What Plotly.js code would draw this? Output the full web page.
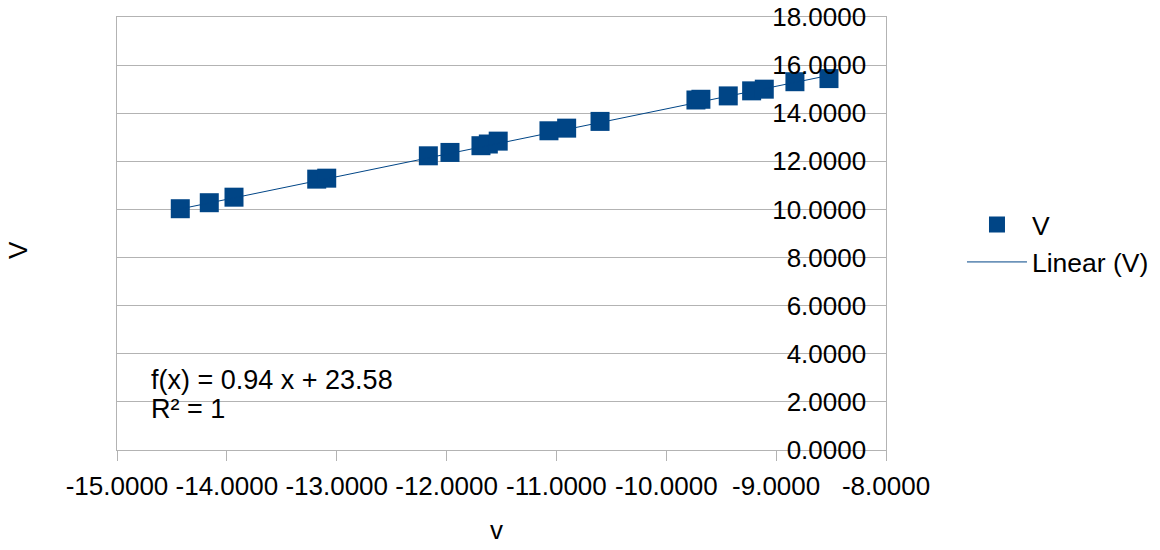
<!DOCTYPE html>
<html>
<head>
<meta charset="utf-8">
<script src="https://cdn.plot.ly/plotly-3.0.1.min.js"></script>
<style>
  html, body { margin: 0; padding: 0; background: #ffffff; }
  #chart { width: 1160px; height: 550px; }
</style>
</head>
<body>
<div id="chart"></div>
<script>
// Data
const xValues = [-14.424, -14.160, -13.935, -13.182, -13.091, -12.166, -11.969, -11.687, -11.620, -11.530,
                 -11.068, -10.907, -10.603, -9.730, -9.685, -9.436, -9.223, -9.108, -8.829, -8.519];
const yValues = [10.03, 10.28, 10.51, 11.26, 11.30, 12.23, 12.37, 12.65, 12.72, 12.84,
                 13.27, 13.38, 13.66, 14.55, 14.58, 14.72, 14.93, 15.00, 15.31, 15.44];

// Trend line coefficients as printed on the chart
const trendSlope = 0.94;
const trendIntercept = 23.58;
const trendR2 = 1;

const seriesName = "V";
const trendName = "Linear (V)";
const xTitle = "v";
const yTitle = "V";

const xTickVals = [-15, -14, -13, -12, -11, -10, -9, -8];
const xTickText = ["-15.0000", "-14.0000", "-13.0000", "-12.0000", "-11.0000", "-10.0000", "-9.0000", "-8.0000"];
const yTickVals = [0, 2, 4, 6, 8, 10, 12, 14, 16, 18];

const color = "#004586";
const gridColor = "#b3b3b3";
const fontFamily = "Liberation Sans, Arial, sans-serif";

const xMin = Math.min(...xValues);
const xMax = Math.max(...xValues);
const trendX = [xMin, xMax];
const trendY = trendX.map(x => trendSlope * x + trendIntercept);

const traces = [
  {
    type: "scatter",
    mode: "markers",
    name: seriesName,
    x: xValues,
    y: yValues,
    marker: { symbol: "square", size: 19, color: color }
  },
  {
    type: "scatter",
    mode: "lines",
    name: trendName,
    x: trendX,
    y: trendY,
    line: { color: color, width: 1 }
  }
];

const eqText = "f(x) = " + trendSlope.toFixed(2) + " x + " + trendIntercept.toFixed(2);
const r2Text = "R² = " + trendR2;

const layout = {
  width: 1160,
  height: 550,
  margin: { l: 117, r: 274, t: 17, b: 100, pad: 0, autoexpand: false },
  paper_bgcolor: "#ffffff",
  plot_bgcolor: "#ffffff",
  font: { family: fontFamily, size: 26, color: "#000000" },
  showlegend: true,
  legend: {
    xref: "container", yref: "container",
    x: 0.8293, y: 0.635, xanchor: "left", yanchor: "top",
    font: { family: fontFamily, size: 26.5, color: "#000000" },
    bgcolor: "rgba(0,0,0,0)", borderwidth: 0,
    itemwidth: 60, tracegroupgap: 0
  },
  xaxis: {
    range: [-15, -8],
    tickvals: xTickVals,
    ticktext: xTickText,
    showgrid: false,
    zeroline: false,
    showline: true,
    linecolor: gridColor,
    linewidth: 1,
    mirror: true,
    ticks: "outside",
    ticklen: 10,
    tickcolor: gridColor,
    ticklabelstandoff: 3,
    tickfont: { family: fontFamily, size: 26, color: "#000000" }
  },
  yaxis: {
    range: [0, 18],
    tickvals: yTickVals,
    tickformat: ".4f",
    side: "right",
    ticklabelposition: "inside",
    ticklabeloverflow: "allow",
    ticklabelstandoff: 12,
    showgrid: true,
    gridcolor: gridColor,
    gridwidth: 1,
    zeroline: false,
    showline: true,
    linecolor: gridColor,
    linewidth: 1,
    mirror: true,
    ticks: "inside",
    ticklen: 10,
    tickcolor: gridColor,
    tickfont: { family: fontFamily, size: 26, color: "#000000" }
  },
  annotations: [
    { xref: "paper", yref: "paper", x: 0.042, y: 0.162, xanchor: "left", yanchor: "middle",
      text: eqText, showarrow: false, font: { family: fontFamily, size: 27, color: "#000000" } },
    { xref: "paper", yref: "paper", x: 0.042, y: 0.095, xanchor: "left", yanchor: "middle",
      text: r2Text, showarrow: false, font: { family: fontFamily, size: 27, color: "#000000" } },
    { xref: "paper", yref: "paper", x: 0.494, y: -0.185, xanchor: "center", yanchor: "middle",
      text: xTitle, showarrow: false, font: { family: fontFamily, size: 26, color: "#000000" } },
    { xref: "paper", yref: "paper", x: -0.1287, y: 0.462, xanchor: "center", yanchor: "middle",
      text: yTitle, textangle: -90, showarrow: false, font: { family: fontFamily, size: 26, color: "#000000" } }
  ]
};

Plotly.newPlot("chart", traces, layout, { staticPlot: true, displayModeBar: false });
</script>
</body>
</html>
